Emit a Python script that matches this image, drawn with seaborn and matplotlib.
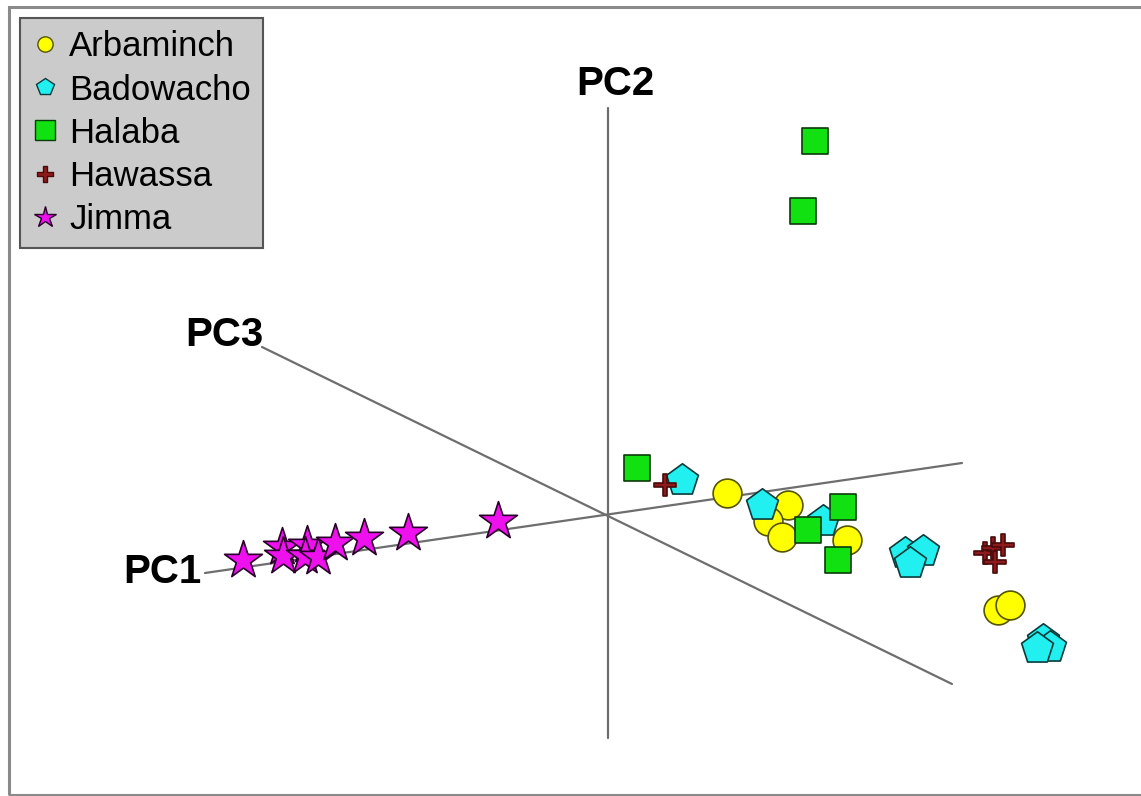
import numpy as np
import pandas as pd
import seaborn as sns
import matplotlib.pyplot as plt
from matplotlib.lines import Line2D
from matplotlib.patches import Rectangle
from matplotlib.path import Path

# projected PCA scores (PC1/PC2/PC3 drawn as a 2D projection)
arbaminch_x = [119, 180, 160, 174, 239, 390, 402]
arbaminch_y = [22, 10, -6, -22, -25, -95, -90]
badowacho_x = [74, 154, 215, 297, 315, 302, 435, 442, 429]
badowacho_y = [35, 10, -6, -38, -36, -48, -125, -132, -133]
halaba_x = [207, 195, 29, 235, 200, 230]
halaba_y = [374, 304, 47, 8, -15, -45]
hawassa_x = [57, 377, 385, 395, 387]
hawassa_y = [30, -38, -33, -30, -47]
jimma_x = [-365, -326, -325, -301, -303, -290, -273, -244, -200, -110]
jimma_y = [-45, -32, -41, -30, -41, -42, -28, -23, -18, -6]

# projected axis directions
axis_names = ["PC1", "PC2", "PC3"]
axis_start_x = [-403, 0, -346]
axis_start_y = [-58, -223, 168]
axis_end_x = [354, 0, 344]
axis_end_y = [52, 407, -169]

groups = ["Arbaminch", "Badowacho", "Halaba", "Hawassa", "Jimma"]
xs = [arbaminch_x, badowacho_x, halaba_x, hawassa_x, jimma_x]
ys = [arbaminch_y, badowacho_y, halaba_y, hawassa_y, jimma_y]

df = pd.concat([pd.DataFrame({"x": x, "y": y, "site": g}) for g, x, y in zip(groups, xs, ys)])

# thin plus marker like the original
w = 0.22
plus = Path([(-w, -1), (w, -1), (w, -w), (1, -w), (1, w), (w, w), (w, 1), (-w, 1),
             (-w, w), (-1, w), (-1, -w), (-w, -w), (-w, -1)], closed=True)

colors = {"Arbaminch": "#ffff00", "Badowacho": "#22f0f0", "Halaba": "#11e011",
          "Hawassa": "#8e1b1b", "Jimma": "#ee11ee"}
edges = {"Arbaminch": "#555500", "Badowacho": "#0a3b3b", "Halaba": "#0a3b0a",
         "Hawassa": "#4a0a0a", "Jimma": "#2a002a"}
markers = {"Arbaminch": "o", "Badowacho": "p", "Halaba": "s", "Hawassa": plus, "Jimma": "*"}
sizes = {"Arbaminch": 430, "Badowacho": 580, "Halaba": 360, "Hawassa": 250, "Jimma": 820}

sns.set_style("white")
plt.rcParams['font.family'] = ['Liberation Sans', 'DejaVu Sans']
plt.rcParams['text.color'] = 'black'

fig = plt.figure(figsize=(11.41, 7.96), dpi=100)
ax = fig.add_axes([0, 0, 1, 1])
ax.set_xlim(-608, 533)
ax.set_ylim(-281, 515)
ax.axis("off")

# outer frame
ax.add_patch(Rectangle((-599, -280), 1150, 788, fill=False, edgecolor="#8a8a8a", lw=2.2, zorder=1))

# axis lines and labels
for name, x0, y0, x1, y1 in zip(axis_names, axis_start_x, axis_start_y, axis_end_x, axis_end_y):
    ax.plot([x0, x1], [y0, y1], color="#6e6e6e", lw=1.6, zorder=1)
ax.text(-407, -57, "PC1", ha="right", va="center", fontsize=29, fontweight="bold", color="black")
ax.text(7, 431, "PC2", ha="center", va="center", fontsize=29, fontweight="bold", color="black")
ax.text(-344, 180, "PC3", ha="right", va="center", fontsize=29, fontweight="bold", color="black")

for g in groups:
    sub = df[df["site"] == g]
    sns.scatterplot(data=sub, x="x", y="y", ax=ax, marker=markers[g], s=sizes[g],
                    color=colors[g], edgecolor=edges[g], linewidth=1.2, legend=False, zorder=3)

leg_ms = {"Arbaminch": 11, "Badowacho": 13, "Halaba": 15, "Hawassa": 12, "Jimma": 16}
handles = [Line2D([], [], linestyle="none", marker=markers[g], markersize=leg_ms[g],
                  markerfacecolor=colors[g], markeredgecolor=edges[g], markeredgewidth=1.0)
           for g in groups]
leg = ax.legend(handles, groups, loc="upper left", bbox_to_anchor=(20 / 1141, 1 - 18 / 796),
                fontsize=25, frameon=True, fancybox=False, facecolor="#cbcbcb", edgecolor="#555555",
                framealpha=1, handlelength=0.7, handletextpad=0.35, labelspacing=0.29,
                borderpad=0.36, borderaxespad=0)
leg.get_frame().set_linewidth(1.5)
for t in leg.get_texts():
    t.set_color("black")

fig.savefig("out.png", dpi=100)
